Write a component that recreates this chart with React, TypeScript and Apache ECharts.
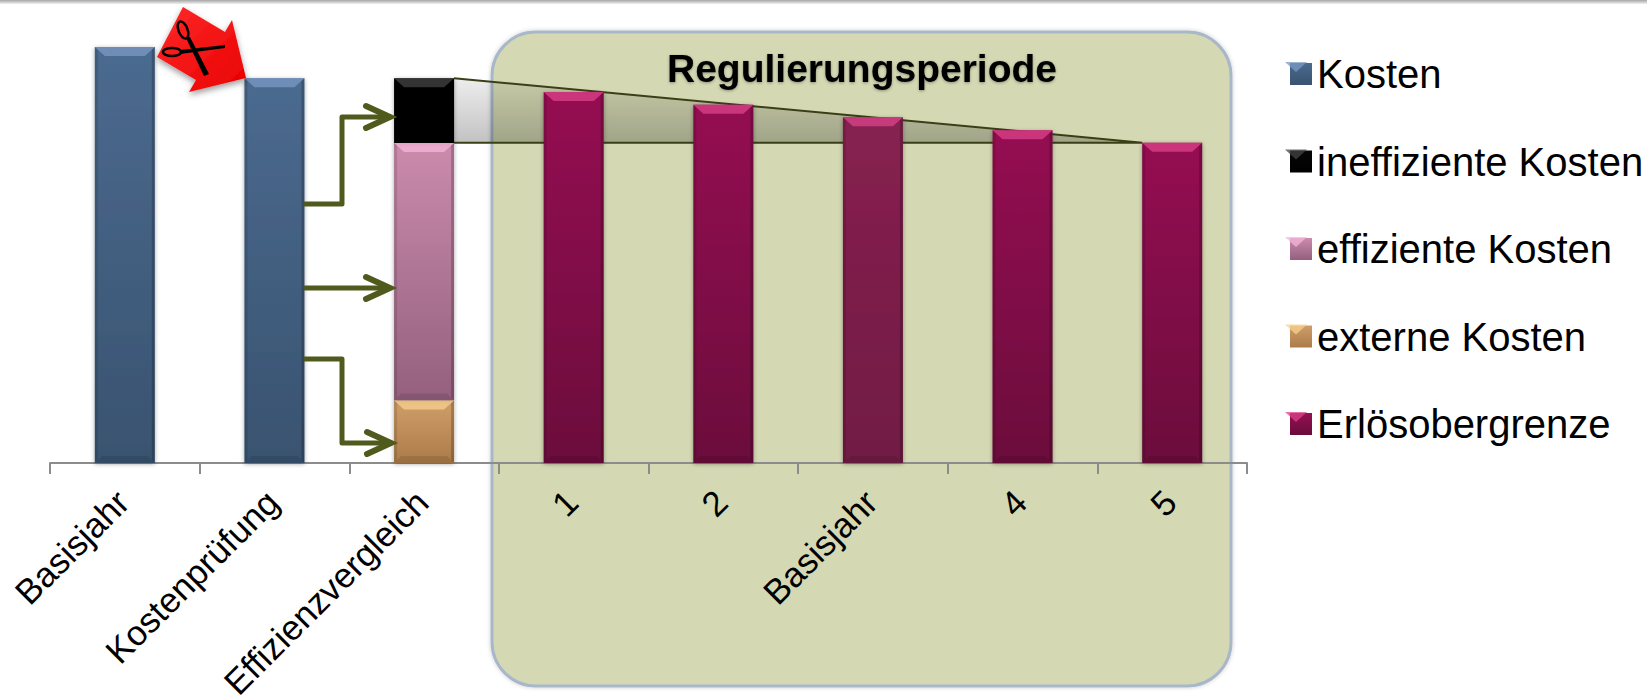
import React, { useEffect, useRef } from "react";
import * as echarts from "echarts";

const categories = ["Basisjahr", "Kostenprüfung", "Effizienzvergleich", "1", "2", "Basisjahr", "4", "5"];
const kosten = [100, 92.5, null, null, null, null, null, null];
const externe = [null, null, 15, null, null, null, null, null];
const effiziente = [null, null, 61.9, null, null, null, null, null];
const ineffiziente = [null, null, 15.6, null, null, null, null, null];
const erloes = [null, null, null, 89.2, 86.1, 83.1, 80, 77];
const legendNames = ["Kosten", "ineffiziente Kosten", "effiziente Kosten", "externe Kosten", "Erlösobergrenze"];
const FONT = "'Liberation Sans', Arial, sans-serif";

const grad = (a: string, b: string) => new echarts.graphic.LinearGradient(0, 0, 0, 1, [
  { offset: 0, color: a },
  { offset: 1, color: b },
]);

// bevel overlay rows: category, base, top, light colour
const bevels: any[] = [];
const addBevels = (vals: any[], bases: any[] | null, light: string) => {
  vals.forEach((v, i) => {
    if (v == null) return;
    const base = bases ? (bases[i] ?? 0) : 0;
    bevels.push([i, base, base + v, light]);
  });
};
addBevels(kosten, null, "#7b9ac4");
addBevels(externe, null, "#f8d28f");
addBevels(effiziente, externe, "#f5b5da");
addBevels(ineffiziente, externe.map((v, i) => (v == null ? null : v + (effiziente[i] as number))), "#444444");
addBevels(erloes, null, "#dc4389");

const swatchY = [73, 160.5, 248, 335.5, 423];
const swatchLight = ["#7b9ac4", "#444444", "#f5b5da", "#f8d28f", "#dc4389"];
const OLIVE = "#4f5a1c";

const arrow = (points: number[][], tipY: number, tipX: number) => [
  { type: "polyline", z: 10, shape: { points }, style: { stroke: OLIVE, lineWidth: 5, fill: "none", lineJoin: "round" } },
  {
    type: "polyline", z: 10,
    shape: { points: [[tipX - 24, tipY - 11], [tipX, tipY], [tipX - 24, tipY + 11]] },
    style: { stroke: OLIVE, lineWidth: 6, fill: "none", lineCap: "round", lineJoin: "miter" },
  },
];

export default function App() {
  const ref = useRef<HTMLDivElement>(null);
  useEffect(() => {
    document.body.style.margin = "0";
    document.body.style.background = "#fff";
    const chart = echarts.init(ref.current!, undefined, { renderer: "svg" });
    const stackBar = (name: string, data: any[], a: string, b: string) => ({
      name, type: "bar", stack: "t", data, barWidth: 60, z: 3,
      itemStyle: { color: grad(a, b), shadowBlur: 4, shadowColor: "rgba(0,0,0,0.35)", shadowOffsetY: 1 },
    });
    const erloesData = erloes.map((v, i) =>
      i === 5 ? { value: v, itemStyle: { color: grad("#872150", "#711a44"), shadowBlur: 4, shadowColor: "rgba(0,0,0,0.35)" } } : v);

    chart.setOption({
      animation: false,
      backgroundColor: "#fff",
      grid: { left: 50, right: 400, top: 47, bottom: 233, outerBoundsMode: "none" },
      legend: {
        data: legendNames, orient: "vertical", left: 1285, top: 49, itemWidth: 22, itemHeight: 22, itemGap: 47.5,
        selectedMode: false, icon: "rect",
        textStyle: { fontFamily: FONT, fontSize: 40, color: "#000" },
      },
      xAxis: {
        type: "category", data: categories, boundaryGap: true,
        axisLine: { lineStyle: { color: "#8c8c8c", width: 2 } },
        axisTick: { show: true, alignWithLabel: false, length: 11, lineStyle: { color: "#8c8c8c", width: 2 } },
        axisLabel: { interval: 0, rotate: 45, margin: 31, padding: [0, 3, 0, 0], fontFamily: FONT, fontSize: 35, color: "#000" },
      },
      yAxis: { type: "value", min: 0, max: 100, show: false },
      graphic: [
        { type: "rect", z: 0, shape: { x: 0, y: 0, width: 1647, height: 4 }, style: { fill: grad("#a6a6a6", "#f0f0f0") } },
        {
          type: "rect", z: -1, shape: { x: 492, y: 32, width: 739, height: 654, r: 44 },
          style: { fill: "#d4d9b3", stroke: "#a9b7ca", lineWidth: 3, shadowBlur: 4, shadowColor: "rgba(0,0,0,0.2)" },
        },
        {
          type: "text", z: 10, x: 862, y: 68,
          style: { text: "Regulierungsperiode", fontFamily: FONT, fontWeight: "bold", fontSize: 39, fill: "#000", align: "center", verticalAlign: "middle", textShadowBlur: 3, textShadowColor: "rgba(0,0,0,0.35)", textShadowOffsetY: 1 },
        },
        ...arrow([[304, 204], [342, 204], [342, 117], [386, 117]], 117, 390),
        ...arrow([[304, 288], [386, 288]], 288, 390),
        ...arrow([[304, 359], [342, 359], [342, 443], [386, 443]], 443, 391),
        {
          type: "polygon", z: 11,
          shape: { points: [[183, 7], [225, 32], [232, 20], [246, 78], [189, 92], [196, 80], [157, 57]] },
          style: { fill: new echarts.graphic.LinearGradient(0, 0, 1, 1, [{ offset: 0, color: "#ff2a2a" }, { offset: 1, color: "#e80000" }]), shadowBlur: 6, shadowOffsetY: 3, shadowColor: "rgba(0,0,0,0.4)" },
        },
        { type: "ellipse", z: 12, shape: { cx: 172, cy: 52, rx: 9, ry: 4 }, style: { fill: "none", stroke: "#000", lineWidth: 2.5 } },
        { type: "ellipse", z: 12, rotation: -1.2, x: 183, y: 30, originX: 0, originY: 0, shape: { cx: 0, cy: 0, rx: 9, ry: 4.5 }, style: { fill: "none", stroke: "#000", lineWidth: 2.5 } },
        { type: "polygon", z: 12, shape: { points: [[180, 50], [225, 45], [225, 48], [180, 54]] }, style: { fill: "#000" } },
        { type: "polygon", z: 12, shape: { points: [[186, 38], [190, 37], [209, 74], [204, 76]] }, style: { fill: "#000" } },
        ...swatchY.map((y, i) => ({
          type: "polygon", z: 12,
          shape: { points: [[1285, y - 11], [1307, y - 11], [1296, y - 1]] },
          style: { fill: swatchLight[i], opacity: 0.75 },
        })),
      ],
      series: [
        stackBar("Kosten", kosten, "#4b6a8f", "#395370"),
        stackBar("externe Kosten", externe, "#d09e68", "#ab7b49"),
        stackBar("effiziente Kosten", effiziente, "#cb8bac", "#94607e"),
        stackBar("ineffiziente Kosten", ineffiziente, "#060606", "#000000"),
        stackBar("Erlösobergrenze", erloesData, "#950f52", "#6b0c3c"),
        {
          type: "custom", name: "wedge", z: 2, silent: true, data: [[2, 7]],
          renderItem: (_p: any, api: any) => {
            const half = 30;
            const top = (ineffiziente[2] as number) + (effiziente[2] as number) + (externe[2] as number);
            const bottom = erloes[7] as number;
            const a = api.coord([api.value(0), top]);
            const c = api.coord([api.value(0), bottom]);
            const b = api.coord([api.value(1), bottom]);
            const x0 = a[0] + half, x1 = b[0] - half;
            return {
              type: "group",
              children: [
                {
                  type: "polygon", shape: { points: [[x0, a[1]], [x1, b[1]], [x0, c[1]]] },
                  style: { fill: new echarts.graphic.LinearGradient(0, 0, 0, 1, [{ offset: 0, color: "rgba(0,0,0,0.07)" }, { offset: 1, color: "rgba(0,0,0,0.24)" }]) },
                },
                { type: "polyline", shape: { points: [[x0, a[1]], [x1, b[1]], [x0, c[1]]] }, style: { stroke: "#3a3f16", lineWidth: 2, fill: "none" } },
              ],
            };
          },
        },
        {
          type: "custom", name: "bevel", z: 4, silent: true, data: bevels,
          encode: { x: 0, y: 2 },
          renderItem: (p: any, api: any) => {
            const i = api.value(0);
            const t = api.coord([i, api.value(2)]);
            const b = api.coord([i, api.value(1)]);
            const l = t[0] - 30, r = t[0] + 30;
            const light = bevels[p.dataIndex][3];
            return {
              type: "group",
              children: [
                {
                  type: "polygon", shape: { points: [[l, t[1]], [r, t[1]], [r - 10, t[1] + 9], [l + 10, t[1] + 9]] },
                  style: { fill: light, opacity: 0.75 },
                },
                { type: "polygon", shape: { points: [[l, b[1]], [r, b[1]], [r - 7, b[1] - 7], [l + 7, b[1] - 7]] }, style: { fill: "rgba(0,0,0,0.1)" } },
                { type: "polygon", shape: { points: [[r, t[1]], [r, b[1]], [r - 3, b[1] - 3], [r - 3, t[1] + 3]] }, style: { fill: "rgba(0,0,0,0.2)" } },
                { type: "polygon", shape: { points: [[l, t[1]], [l, b[1]], [l + 3, b[1] - 3], [l + 3, t[1] + 3]] }, style: { fill: "rgba(0,0,0,0.12)" } },
              ],
            };
          },
        },
      ],
    });
    return () => chart.dispose();
  }, []);
  return <div ref={ref} style={{ width: 1647, height: 696 }} />;
}
